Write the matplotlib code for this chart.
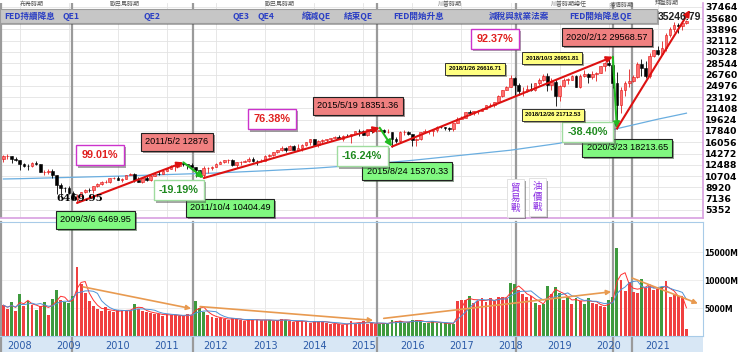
import numpy as np
import pandas as pd
import matplotlib
matplotlib.use("Agg")
import matplotlib.pyplot as plt
from matplotlib.patches import Rectangle, FancyArrowPatch
import matplotlib.patheffects as pe

plt.rcParams['font.family'] = ['DejaVu Sans', 'Noto Sans CJK TC']
CJK = ['Noto Sans CJK TC', 'DejaVu Sans']
ARIAL = ['Liberation Sans', 'DejaVu Sans']

# DJIA monthly candles, 2007/9 .. 2021/8
first_open = 13358
close = [13896, 13930, 13371, 13265,
         12650, 12266, 12263, 12820, 12638, 11350, 11378, 11544, 10851, 9325, 8829, 8776,
         8001, 7063, 7609, 8168, 8500, 8447, 9172, 9496, 9712, 9713, 10345, 10428,
         10067, 10325, 10857, 11009, 10137, 9774, 10466, 10015, 10788, 11118, 11006, 11578,
         11892, 12226, 12320, 12811, 12570, 12414, 12143, 11614, 10913, 11955, 12046, 12218,
         12633, 12952, 13212, 13214, 12393, 12880, 13009, 13091, 13437, 13096, 13026, 13104,
         13861, 14054, 14579, 14840, 15116, 14910, 15500, 14810, 15130, 15546, 16086, 16577,
         15699, 16322, 16458, 16581, 16717, 16827, 16563, 17098, 17043, 17391, 17828, 17823,
         17165, 18133, 17776, 17841, 18011, 17620, 17690, 16528, 16285, 17664, 17720, 17425,
         16466, 16517, 17685, 17774, 17787, 17930, 18432, 18401, 18308, 18142, 19124, 19763,
         19864, 20812, 20663, 20941, 21009, 21350, 21891, 21948, 22405, 23377, 24272, 24719,
         26149, 25029, 24103, 24163, 24416, 24271, 25415, 25965, 26458, 25116, 25538, 23327,
         24999, 25916, 25929, 26593, 24815, 26600, 26864, 26403, 26917, 27046, 28051, 28538,
         28256, 25409, 21917, 24346, 25383, 25813, 26428, 28430, 27782, 26502, 29639, 30606,
         29983, 30932, 32982, 33875, 34529, 34503, 34935, 35246.79]
high = [14000, 14198, 13900, 13750,
        13280, 12800, 12650, 12900, 13140, 12650, 11680, 11810, 11790, 10880, 9650, 9030,
        9090, 8300, 7950, 8260, 8600, 8880, 9200, 9630, 9920, 10120, 10410, 10580,
        10730, 10410, 10930, 11260, 11210, 10600, 10590, 10720, 10950, 11250, 11450, 11630,
        12020, 12390, 12420, 12870, 12876, 12630, 12750, 12200, 11720, 12280, 12200, 12330,
        12720, 13030, 13280, 13340, 13340, 12900, 13100, 13330, 13660, 13660, 13290, 13350,
        13970, 14150, 14590, 14890, 15540, 15340, 15660, 15660, 15710, 15710, 16170, 16590,
        16590, 16400, 16590, 16630, 16740, 16980, 17150, 17150, 17350, 17400, 17890, 18100,
        17950, 18180, 18290, 18180, 18351, 18110, 18140, 17710, 16930, 17800, 17980, 17900,
        17410, 16800, 17720, 18170, 17900, 18020, 18620, 18670, 18490, 18400, 19150, 19990,
        20130, 20850, 21170, 21070, 21110, 21540, 21930, 22180, 22420, 23480, 24330, 24880,
        26617, 26310, 25450, 24860, 25090, 25400, 25460, 26170, 26770, 26952, 26280, 25980,
        25140, 26240, 26160, 26700, 26700, 26910, 27400, 27000, 27310, 27120, 28180, 28700,
        29374, 29569, 27100, 24760, 25760, 27580, 26700, 28660, 29200, 28960, 30120, 30640,
        31270, 32010, 33260, 34260, 35090, 34850, 35170, 35300]
low = [12980, 13450, 12700, 13100,
       11635, 12100, 11730, 12100, 12480, 11300, 10830, 11100, 10360, 7880, 7450, 8150,
       7900, 7000, 6470, 7490, 8000, 8200, 8090, 9050, 9250, 9600, 9680, 10230,
       10020, 9830, 10300, 10850, 9770, 9730, 9600, 9930, 9940, 10710, 10930, 11000,
       11550, 11880, 11550, 12090, 12300, 11860, 12100, 10600, 10590, 10404, 11230, 11730,
       12200, 12620, 12750, 12710, 12350, 12040, 12490, 12990, 13000, 13000, 12470, 12880,
       13100, 13780, 13940, 14400, 14740, 14550, 14900, 14760, 14780, 14720, 15520, 15700,
       15690, 15340, 15940, 16020, 16330, 16680, 16560, 16330, 16940, 15860, 17360, 17070,
       17140, 17040, 17580, 17660, 17840, 17590, 17450, 15370, 16000, 16010, 17260, 17140,
       15450, 15500, 16450, 17480, 17330, 17060, 17710, 18250, 17990, 17880, 17880, 19070,
       19680, 19830, 20410, 20380, 20550, 20990, 21280, 21600, 21700, 22400, 23240, 24240,
       24740, 23360, 23510, 23340, 23920, 24080, 24080, 25120, 25800, 24120, 24270, 21713,
       22640, 24830, 25210, 25890, 24820, 24680, 26430, 25340, 25980, 25740, 27050, 27330,
       28170, 24680, 18214, 20740, 23360, 24840, 25530, 26180, 26540, 26140, 26280, 29460,
       29860, 29850, 30550, 32700, 33470, 33270, 33740, 34690]

# monthly volume (M) and bar colour (R / G)
volume = [5500, 4800, 6000, 4500,
          7500, 5300, 6300, 5600, 4700, 5400, 6100, 3800, 6600, 8300, 6400, 6100,
          5900, 7100, 12400, 9200, 7600, 6200, 5400, 4900, 4500, 5100, 4400, 4200,
          4600, 4700, 4400, 4700, 5800, 4900, 4500, 4300, 4100, 4000, 3900, 3600,
          3900, 3800, 3700, 3500, 3600, 3900, 3700, 6200, 5000, 4300, 3800, 3400,
          3300, 3200, 3000, 2900, 3300, 3000, 2800, 2700, 3000, 2900, 2900, 2800,
          2900, 2800, 2700, 2800, 3000, 2900, 2600, 2500, 2700, 2700, 2500, 2400,
          2600, 2600, 2600, 2400, 2200, 2100, 2200, 2000, 2100, 2700, 2100, 2400,
          2600, 2200, 2400, 2200, 2200, 2300, 2200, 2800, 2600, 2600, 2300, 2500,
          2900, 2800, 2600, 2400, 2400, 2700, 2300, 2300, 2300, 2100, 2200, 6200,
          6500, 6400, 7200, 5900, 6300, 6800, 6000, 6800, 6200, 6900, 7000, 6700,
          9400, 9200, 8200, 7500, 6900, 7100, 5900, 5600, 5700, 8900, 7500, 8700,
          7600, 6500, 7000, 5800, 6700, 6300, 5800, 6800, 5900, 5700, 5300, 5200,
          6400, 7000, 15800, 10000, 8100, 9700, 7800, 7600, 10100, 8500, 9000, 8300,
          8400, 8700, 9900, 6900, 7300, 7100, 6800, 1200]
vol_color = ("RRGR" + "GRGRGRGRGGRG" + "GGRRRRRRRRRR" + "RRRRGRRRRRRR" + "RRRRRRRGGGRR"
             + "RRRRRRRRRRRR" + "RGRRRGRRRRRR" + "RRRRRRRRRRRR" + "RRRRGGGGGGGG"
             + "GGGGGGGGGGGR" + "RRGRRRRRRRRR" + "GGRRRRGRGGRG" + "GRGRGRGGRRRR"
             + "GGGRRRRRGRRR" + "RGRRRRRR")

# long moving average (read at yearly points)
ma_month = [0, 4, 16, 28, 40, 52, 64, 76, 88, 100, 112, 124, 136, 148, 160, 167]
ma_value = [10250, 10300, 10500, 10700, 10950, 11200, 11550, 11950, 12500, 13200,
            14000, 14800, 15900, 17900, 19700, 20650]

years = list(range(2008, 2022))
price_ticks = [5352 + 1784 * k for k in range(19)]

# turning points
key_dates = ["2009/3/6", "2011/5/2", "2011/10/4", "2015/5/19", "2015/8/24", "2020/2/12", "2020/3/23"]
key_vals = [6469.95, 12876, 10404.49, 18351.36, 15370.33, 29568.57, 18213.65]
yellow_dates = ["2018/1/26", "2018/10/3", "2018/12/26"]
yellow_vals = [26616.71, 26951.81, 21712.53]

band_labels = ["FED持續降息", "QE1", "QE2", "QE3", "QE4", "縮減QE", "結束QE", "FED開始升息", "減稅與就業法案", "FED開始降息QE"]
band_x = [6.5, 16.5, 36.3, 58.1, 64.2, 76.4, 86.9, 101.6, 126.1, 146.1]
top_labels = ["布希時期", "歐巴馬時期", "歐巴馬時期", "川普時期", "川普時期總任", "疫情時期", "拜登時期"]
top_x = [7, 29.7, 67.6, 109.2, 138.3, 151.2, 162.2]
event_lines = [-0.5, 16.8, 46.4, 91.3, 125.3, 149.0, 153.7]

# vol trend arrows (month, volume)
vol_arrows = [((19.5, 8770), (45.9, 4900)), ((48.1, 5260), (90.4, 2800)),
              ((93.0, 3150), (148.6, 7900)), ((153.7, 10350), (169.8, 5800))]


def mpos(d):
    p = d.split("/")
    return (int(p[0]) - 2007) * 12 + int(p[1]) - 9


def fmt(v):
    return f"{v:.2f}".rstrip("0").rstrip(".")


x = np.arange(len(close))
close = np.array(close, dtype=float)
opens = np.concatenate([[first_open], close[:-1]])
high = np.array(high, dtype=float)
low = np.array(low, dtype=float)

W, H = 740, 352
fig = plt.figure(figsize=(W / 100, H / 100), dpi=100)
fig.patch.set_facecolor("white")


def fx(px):
    return px / W


def fy(py):
    return 1 - py / H


ax = fig.add_axes([0, fy(218), fx(703), fy(3) - fy(218)])
axv = fig.add_axes([0, fy(336), fx(703), fy(222) - fy(336)])
ax.set_zorder(2)
ax.patch.set_alpha(0)
axv.set_zorder(1)

xlim = (-0.83, 171.05)
ax.set_xlim(*xlim)
axv.set_xlim(*xlim)
ax.set_ylim(4088, 38058)
axv.set_ylim(0, 20360)

year_pos = [(y - 2007) * 12 - 8 for y in years]

# grids
for yv in price_ticks:
    ax.axhline(yv, color="#e3e3e3", lw=0.6, zorder=0)
for xp in year_pos:
    ax.axvline(xp, color="#e3e3e3", lw=0.6, zorder=0)
    axv.axvline(xp, color="#e3e3e3", lw=0.6, zorder=0)
for yv in [5000, 10000, 15000]:
    axv.axhline(yv, color="#ececec", lw=0.6, zorder=0)

# event lines
for e in event_lines:
    ax.axvline(e, color="#9a9a9a", lw=1.6, zorder=1)
    axv.axvline(e, ymin=-0.14, ymax=1, color="#9a9a9a", lw=1.6, zorder=1, clip_on=False)

# candles
up = close >= opens
ax.vlines(x, low, high, colors=np.where(up, "#e02020", "black"), lw=0.6, zorder=3)
body = np.maximum(np.abs(close - opens), 60)
ax.bar(x, body, bottom=np.minimum(opens, close), width=0.65,
       color=np.where(up, "#ff7070", "black"), edgecolor=np.where(up, "#e01010", "black"),
       lw=0.4, zorder=4)

ax.plot(ma_month, ma_value, color="#6aaee0", lw=0.9, zorder=2)

# top gray band
ax.add_patch(Rectangle((0, 0.907), 657 / 703, 0.065, transform=ax.transAxes,
                       facecolor="#c6c6c6", edgecolor="#9c9c9c", lw=0.8, zorder=5,
                       path_effects=[pe.SimplePatchShadow(offset=(1.5, -1.5), alpha=0.4), pe.Normal()]))
for lab, bx in zip(band_labels, band_x):
    ax.text(bx, 0.9395, lab, transform=ax.get_xaxis_transform(), ha="center", va="center",
            fontsize=6.2, color="#2b3fc4", fontweight="bold", family=CJK, zorder=6)
for lab, tx in zip(top_labels, top_x):
    fig.text(fx(3.4 + tx * 4.09), fy(1), lab, ha="center", va="top", fontsize=4.3,
             color="#555555", family=CJK)

# trend arrows
pts = [(mpos(d), v) for d, v in zip(key_dates, key_vals)] + [(167.9, 36950)]
for i in range(len(pts) - 1):
    col = "#dd1111" if i % 2 == 0 else "#22bb22"
    ax.add_patch(FancyArrowPatch(pts[i], pts[i + 1], arrowstyle="-|>", mutation_scale=9,
                                 color=col, lw=1.5, zorder=7, shrinkA=0, shrinkB=0))


def shadow_box(t):
    t.get_bbox_patch().set_path_effects([pe.SimplePatchShadow(offset=(1.5, -1.5), alpha=0.5), pe.Normal()])


# value boxes
box_pos = [(22.6, 3772), (42.4, 16096), (55.4, 5668), (86.7, 21784), (98.7, 11514),
           (147.6, 32686), (152.5, 15148)]
for i, (d, v) in enumerate(zip(key_dates, key_vals)):
    fc = "#f08080" if i in (1, 3, 5) else "#80f880"
    t = ax.text(*box_pos[i], f"{d} {fmt(v)}", ha="center", va="center", fontsize=6.6,
                family=ARIAL, zorder=9, clip_on=False,
                bbox=dict(boxstyle="square,pad=0.45", fc=fc, ec="#202020", lw=0.8))
    shadow_box(t)

pct_pos = [(23.6, 14040), (42.9, 8512), (65.7, 19730), (87.7, 13884), (120.2, 32370), (142.9, 17676)]
for i in range(len(key_vals) - 1):
    pct = (key_vals[i + 1] / key_vals[i] - 1) * 100
    if pct > 0:
        tc, ec = "#e02020", "#cc33cc"
    else:
        tc, ec = "#1f8a1f", "#9fdc9f"
    t = ax.text(*pct_pos[i], f"{pct:.2f}%", ha="center", va="center", fontsize=7.8,
                fontweight="bold", color=tc, family=ARIAL, zorder=9,
                bbox=dict(boxstyle="square,pad=0.5", fc="white", ec=ec, lw=1.0))
    shadow_box(t)

yellow_pos = [(115.3, 27630), (134.1, 29368), (134.4, 20362)]
for (d, v), p in zip(zip(yellow_dates, yellow_vals), yellow_pos):
    t = ax.text(*p, f"{d} {fmt(v)}", ha="center", va="center", fontsize=4.2,
                fontweight="bold", family=ARIAL, zorder=9,
                bbox=dict(boxstyle="square,pad=0.6", fc="#ffff80", ec="#303030", lw=0.7))
    shadow_box(t)

ax.text(18.7, 7090, fmt(key_vals[0]), ha="center", va="center", fontsize=7.5,
        fontweight="bold", family=["DejaVu Serif"], zorder=8)
ax.text(165.4, 35846, fmt(close[-1]), ha="center", va="center", fontsize=7.5,
        fontweight="bold", family=ARIAL, color="#222222", zorder=8)

for lab, p in [("貿\n易\n戰", (125.1, 7250)), ("油\n價\n戰", (130.5, 7400))]:
    t = ax.text(*p, lab, ha="center", va="center", fontsize=6.8, color="#8a2be2",
                family=CJK, linespacing=1.15, zorder=9,
                bbox=dict(boxstyle="square,pad=0.4", fc="white", ec="#dddddd", lw=0.6))
    shadow_box(t)

# axes style
ax.yaxis.tick_right()
ax.set_yticks(price_ticks)
ax.set_yticklabels([str(t) for t in price_ticks])
ax.tick_params(axis="y", length=0, pad=1.5, labelsize=6.7)
for lb in ax.get_yticklabels():
    lb.set_fontweight("bold")
ax.set_xticks([])
for s in ["top", "left"]:
    ax.spines[s].set_visible(False)
ax.spines["right"].set_color("#d8a0e0")
ax.spines["bottom"].set_color("#d8a0e0")
ax.spines["right"].set_linewidth(1.2)
ax.spines["bottom"].set_linewidth(1.2)

# volume
vol = pd.Series(volume, dtype=float)
axv.bar(x, vol, width=0.7, color=["#f04040" if c == "R" else "#3e9a3e" for c in vol_color], zorder=2)
axv.plot(x, vol.rolling(3, min_periods=1).mean(), color="#ff3030", lw=0.7, zorder=3)
axv.plot(x, vol.rolling(6, min_periods=1).mean(), color="#4f93d8", lw=0.7, zorder=3)
for a, b in vol_arrows:
    axv.add_patch(FancyArrowPatch(a, b, arrowstyle="-|>", mutation_scale=7,
                                  color="#e89a50", lw=1.2, zorder=4, shrinkA=0, shrinkB=0))
axv.yaxis.tick_right()
axv.set_yticks([5000, 10000, 15000])
axv.set_yticklabels(["5000M", "10000M", "15000M"])
axv.tick_params(axis="y", length=0, pad=1, labelsize=5.5)
for lb in axv.get_yticklabels():
    lb.set_fontweight("bold")
axv.set_xticks(year_pos)
axv.set_xticklabels([str(y) for y in years])
axv.tick_params(axis="x", length=0, pad=3.5, labelsize=7, labelcolor="#2a5aa8")
for s in axv.spines.values():
    s.set_color("#a8cbe8")
axv.spines["left"].set_visible(False)

fig.patches.append(Rectangle((0, 0), fx(703), fy(337), transform=fig.transFigure,
                             facecolor="#d8e7f5", edgecolor="none", zorder=0))

fig.savefig("out.png", dpi=100)
